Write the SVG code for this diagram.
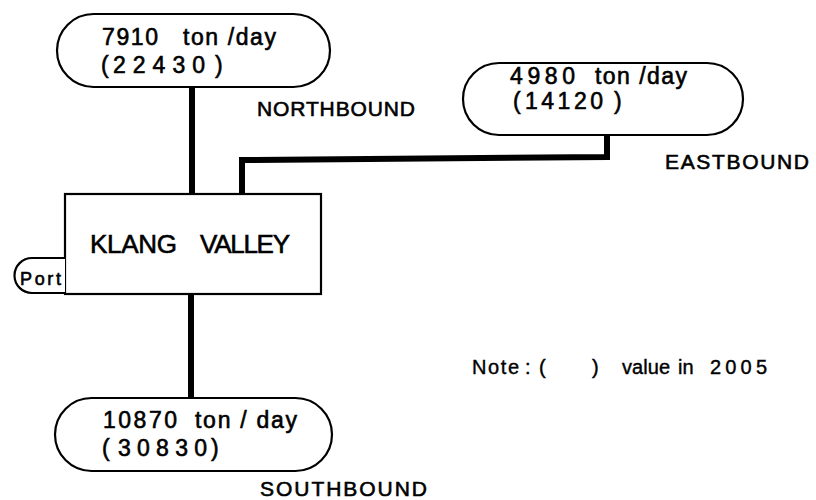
<svg xmlns="http://www.w3.org/2000/svg" width="816" height="500" viewBox="0 0 816 500">
<style>
.box{fill:#fff;stroke:#000;stroke-width:2.2}
.conn{fill:none;stroke:#000;stroke-width:6}
text{font-family:"Liberation Sans","Arial",sans-serif;fill:#000;stroke:#000;stroke-width:0.6}
.v{font-size:23px}
.lbl{font-size:21px}
.note{font-size:20px;stroke-width:0.4}
</style>
<rect width="816" height="500" fill="#fff"/>
<g id="connectors">
<line class="conn" x1="192" y1="87" x2="192" y2="195"/>
<line class="conn" x1="191" y1="293" x2="191" y2="398"/>
<polyline class="conn" points="242,195 242,160 607,157 607,134"/>
</g>
<g id="north">
<rect class="box" x="57" y="14" width="273" height="73" rx="36.5"/>
<text class="v"><tspan x="102" y="45" textLength="56" lengthAdjust="spacing">7910</tspan><tspan x="183" y="45" textLength="93" lengthAdjust="spacing">ton /day</tspan></text>
<text class="v"><tspan x="101" y="73">(</tspan><tspan x="113" y="73" textLength="92" lengthAdjust="spacing">22430</tspan><tspan x="215" y="73">)</tspan></text>
<text class="lbl" x="257" y="116" textLength="158" lengthAdjust="spacing">NORTHBOUND</text>
</g>
<g id="east">
<rect class="box" x="463" y="63" width="280" height="72" rx="36"/>
<text class="v"><tspan x="510" y="84" textLength="65" lengthAdjust="spacing">4980</tspan><tspan x="595" y="84" textLength="92" lengthAdjust="spacing">ton /day</tspan></text>
<text class="v"><tspan x="513" y="109">(</tspan><tspan x="525" y="109" textLength="78" lengthAdjust="spacing">14120</tspan><tspan x="614" y="109">)</tspan></text>
<text class="lbl" x="665" y="169" textLength="144" lengthAdjust="spacing">EASTBOUND</text>
</g>
<g id="klang">
<rect class="box" x="65" y="194" width="256" height="100"/>
<text font-size="26"><tspan x="90" y="253" textLength="87" lengthAdjust="spacing">KLANG</tspan><tspan x="200" y="253" textLength="90" lengthAdjust="spacing">VALLEY</tspan></text>
</g>
<g id="port">
<path class="box" d="M65,258 H32 A17.5,17.5 0 0 0 32,293 H65"/>
<text x="20" y="285" font-size="18" textLength="41" lengthAdjust="spacing">Port</text>
</g>
<g id="south">
<rect class="box" x="55" y="398" width="277" height="73" rx="36.5"/>
<text class="v"><tspan x="103" y="428" textLength="74" lengthAdjust="spacing">10870</tspan><tspan x="195" y="428" textLength="102" lengthAdjust="spacing">ton / day</tspan></text>
<text class="v"><tspan x="102" y="456">(</tspan><tspan x="118" y="456" textLength="89" lengthAdjust="spacing">30830</tspan><tspan x="211" y="456">)</tspan></text>
<text class="lbl" x="260" y="496" textLength="167" lengthAdjust="spacing">SOUTHBOUND</text>
</g>
<g id="note">
<text class="note"><tspan x="472" y="374" textLength="47" lengthAdjust="spacing">Note</tspan><tspan x="525" y="374">:</tspan><tspan x="539" y="374">(</tspan><tspan x="592" y="374">)</tspan><tspan x="622" y="374" textLength="48" lengthAdjust="spacing">value</tspan><tspan x="678" y="374">in</tspan><tspan x="710" y="374" textLength="57" lengthAdjust="spacing">2005</tspan></text>
</g>
</svg>
